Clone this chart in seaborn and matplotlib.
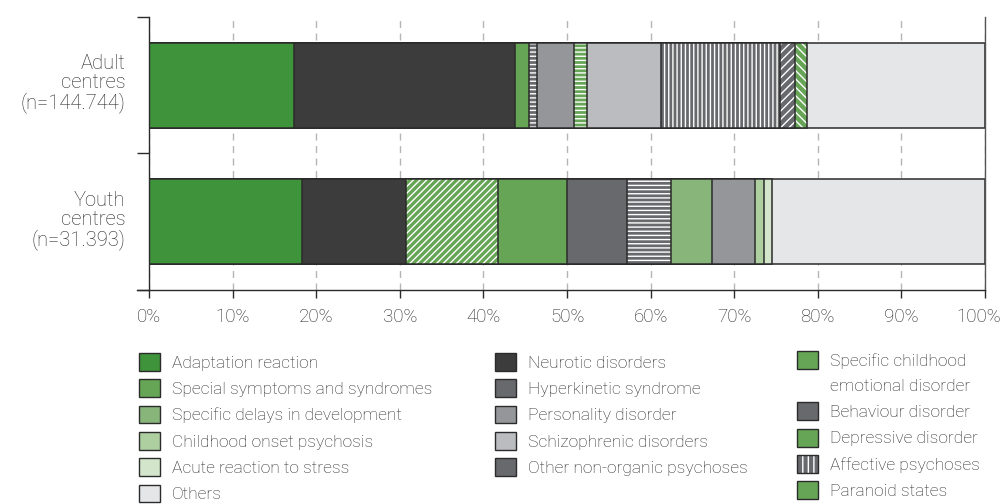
import numpy as np
import pandas as pd
import seaborn as sns
import matplotlib.pyplot as plt
from matplotlib.patches import Rectangle, Patch
from matplotlib.legend_handler import HandlerPatch
from matplotlib.transforms import ScaledTranslation

# y categories (top to bottom)
centres = ["Adult\ncentres\n(n=144.744)", "Youth\ncentres\n(n=31.393)"]

# stacking order and shares (%) for each bar
adult_cats = ["Adaptation reaction", "Neurotic disorders", "Special symptoms and syndromes",
              "Behaviour disorder", "Personality disorder", "Depressive disorder",
              "Schizophrenic disorders", "Affective psychoses", "Other non-organic psychoses",
              "Paranoid states", "Others"]
adult_vals = [17.3, 26.5, 1.6, 1.0, 4.4, 1.6, 8.8, 14.3, 1.8, 1.4, 21.3]

youth_cats = ["Adaptation reaction", "Neurotic disorders", "Specific childhood\nemotional disorder",
              "Special symptoms and syndromes", "Hyperkinetic syndrome", "Behaviour disorder",
              "Specific delays in development", "Personality disorder", "Childhood onset psychosis",
              "Acute reaction to stress", "Others"]
youth_vals = [18.3, 12.4, 11.0, 8.3, 7.2, 5.2, 5.0, 5.1, 1.1, 0.9, 25.5]

# legend columns
legend_col1 = ["Adaptation reaction", "Special symptoms and syndromes", "Specific delays in development",
               "Childhood onset psychosis", "Acute reaction to stress", "Others"]
legend_col2 = ["Neurotic disorders", "Hyperkinetic syndrome", "Personality disorder",
               "Schizophrenic disorders", "Other non-organic psychoses"]
legend_col3 = ["Specific childhood\nemotional disorder", "Behaviour disorder", "Depressive disorder",
               "Affective psychoses", "Paranoid states"]

xticks = list(range(0, 101, 10))

style = {
    "Adaptation reaction": "#3f933a",
    "Special symptoms and syndromes": "#65a555",
    "Specific delays in development": "#88b57a",
    "Childhood onset psychosis": "#aecfa0",
    "Acute reaction to stress": "#d3e6cc",
    "Others": "#e5e6e8",
    "Neurotic disorders": "#3c3c3c",
    "Hyperkinetic syndrome": "#68696c",
    "Personality disorder": "#959699",
    "Schizophrenic disorders": "#bbbcbf",
    "Other non-organic psychoses": "#68696c",
    "Specific childhood\nemotional disorder": "#65a555",
    "Behaviour disorder": "#68696c",
    "Depressive disorder": "#65a555",
    "Affective psychoses": "#68696c",
    "Paranoid states": "#65a555",
}
hatches = {
    "Behaviour disorder": "----",
    "Depressive disorder": "----",
    "Affective psychoses": "||||",
    "Other non-organic psychoses": "////",
    "Paranoid states": "\\\\\\\\",
    "Specific childhood\nemotional disorder": "/////",
}

txt = "#262626"
edge = "#2b2b2b"

sns.set_theme(style="white")
plt.rcParams['font.family'] = ['Roboto', 'DejaVu Sans']
plt.rcParams['font.weight'] = 'light'
plt.rcParams['hatch.linewidth'] = 1.0

fig = plt.figure(figsize=(10.05, 5.04), dpi=100)
ax = fig.add_axes([0.1483, 0.4246, 0.8318, 0.5417])

# stacked bars: draw cumulative totals from right to left so each covers the previous
for centre, cats, vals in [(centres[0], adult_cats, adult_vals), (centres[1], youth_cats, youth_vals)]:
    ends = np.cumsum(vals)
    for cat, end in reversed(list(zip(cats, ends))):
        df = pd.DataFrame({"centre": [centre], "share": [end]})
        sns.barplot(data=df, x="share", y="centre", order=centres, orient="h",
                    color=style[cat], saturation=1, width=0.62, errorbar=None,
                    hatch=hatches.get(cat, ""), edgecolor="white", linewidth=0, ax=ax)
        for bar in ax.containers[-1]:
            ax.add_patch(Rectangle(bar.get_xy(), bar.get_width(), bar.get_height(),
                                   fill=False, edgecolor=edge, lw=1.1, zorder=bar.get_zorder()))

ax.set_xlim(0, 100)
ax.set_ylim(1.5, -0.5)
ax.set_xlabel("")
ax.set_ylabel("")
ax.set_xticks(xticks)
ax.set_xticklabels([f"{t}%" for t in xticks])
ax.set_axisbelow(True)
ax.xaxis.grid(True, ls=(0, (5, 4)), color="#b5b5b5", lw=1)

ax.set_yticks([-0.5, 0.5, 1.5], minor=True)
ax.tick_params(axis="x", bottom=True, length=6, width=1, color=edge, labelsize=13.5,
               labelcolor=txt, pad=7)
ax.tick_params(axis="y", which="major", left=False, length=0, labelsize=14.5, labelcolor=txt, pad=17)
ax.tick_params(axis="y", which="minor", left=True, length=9, width=1, color=edge)
for lab in ax.get_yticklabels():
    lab.set_linespacing(1.0)
    lab.set_transform(lab.get_transform() + ScaledTranslation(0, 0.04, fig.dpi_scale_trans))
# last label pulled in so it stays inside the figure
last = ax.get_xticklabels()[-1]
last.set_transform(last.get_transform() + ScaledTranslation(-0.06, 0, fig.dpi_scale_trans))

ax.spines["top"].set_visible(False)
for s in ["left", "bottom", "right"]:
    ax.spines[s].set_color(edge)
    ax.spines[s].set_linewidth(1)
ax.spines["right"].set_color("#555555")
ax.spines["bottom"].set_bounds(-1.4, 100)

# legend: three independent columns
def handle(cat):
    if cat == "Affective psychoses":
        return (Patch(facecolor=style[cat], edgecolor="white", hatch="|||", lw=0),
                Patch(facecolor="none", edgecolor=edge, lw=1))
    return Patch(facecolor=style[cat], edgecolor=edge, lw=1)

def first_line_box(legend, orig_handle, xdescent, ydescent, width, height, fontsize):
    # keep the swatch next to the first line of a two-line label
    return Rectangle((-xdescent, -ydescent + 0.78 * fontsize), width, height)

for col, x in [(legend_col1, 139), (legend_col2, 495), (legend_col3, 797)]:
    handles = [handle(c) for c in col]
    hmap = {}
    for h, c in zip(handles, col):
        if "\n" in c:
            hmap[h] = HandlerPatch(patch_func=first_line_box)
    leg = fig.legend(handles, col, loc="upper left", handler_map=hmap,
                     bbox_to_anchor=(x / 1005, 1 - 353 / 504), frameon=False,
                     borderpad=0, borderaxespad=0, fontsize=12.5, handlelength=1.2,
                     handleheight=1.2, handletextpad=0.7, labelspacing=0.49)
    for t in leg.get_texts():
        t.set_color(txt)
        t.set_linespacing(1.85)

fig.savefig("out.png", dpi=100)
